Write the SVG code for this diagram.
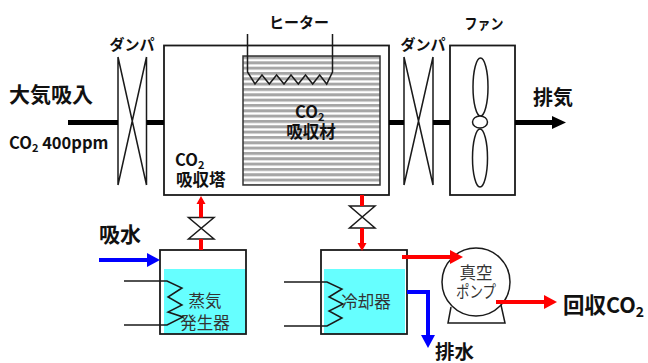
<svg xmlns="http://www.w3.org/2000/svg" width="648" height="363" viewBox="0 0 648 363">
<defs>
<pattern id="stripes" width="4" height="5.33" patternUnits="userSpaceOnUse" y="56"><rect width="4" height="5.33" fill="#fff"/><rect width="4" height="3" fill="#a6a6a6"/></pattern>
<marker id="ar" markerUnits="userSpaceOnUse" markerWidth="14" markerHeight="14" refX="0" refY="7" orient="auto"><path d="M0,0L13,7L0,14Z" fill="#f00"/></marker>
<marker id="ars" markerUnits="userSpaceOnUse" markerWidth="10" markerHeight="10" refX="0" refY="5" orient="auto"><path d="M0,0.500L8,5L0,9.500Z" fill="#f00"/></marker>
<marker id="ab" markerUnits="userSpaceOnUse" markerWidth="14" markerHeight="14" refX="0" refY="7" orient="auto"><path d="M0,0L13,7L0,14Z" fill="#00f"/></marker>
<marker id="ak" markerUnits="userSpaceOnUse" markerWidth="14" markerHeight="14" refX="0" refY="7" orient="auto"><path d="M0,0.500L14,7L0,13.500Z" fill="#000"/></marker>
</defs>
<style>
text{font-family:"Noto Sans CJK JP","Noto Sans",sans-serif;fill:#111}
.b{font-weight:700}
.box{fill:#fff;stroke:#1a1a1a;stroke-width:1.800}
.frame{fill:none;stroke:#1a1a1a;stroke-width:1.800}
.ln{fill:none;stroke:#1a1a1a;stroke-width:1.500}
.water{fill:#66ffff}
.pipeK{fill:none;stroke:#000;stroke-width:5}
.pipeR{fill:none;stroke:#f00;stroke-width:4}
.pipeB{fill:none;stroke:#00f;stroke-width:4}
.sm{font-size:16.500px;fill:#333}
</style>
<g id="inlet-label">
<text class="b" x="9" y="102" font-size="21">大気吸入</text>
<text class="b" x="9" y="149" font-size="16.500">CO<tspan font-size="11" dy="3">2</tspan><tspan dy="-3"> 400ppm</tspan></text>
</g>
<g id="damper-1">
<path class="ln" d="M118,57V185M146.500,57V185M118,57L146.500,185M146.500,57L118,185"/>
<text class="b" x="132" y="50" font-size="15" text-anchor="middle">ダンパ</text>
</g>
<g id="absorption-tower">
<rect class="box" x="164" y="45.500" width="225" height="149.500"/>
<text class="b" x="175" y="166" font-size="16.500">CO<tspan font-size="11" dy="3">2</tspan></text>
<text class="b" x="176" y="186" font-size="16.500">吸収塔</text>
</g>
<g id="absorbent">
<rect x="243" y="56" width="137" height="129" fill="url(#stripes)" stroke="#333" stroke-width="1.500"/>
<text class="b" x="295" y="118" font-size="16.500">CO<tspan font-size="11" dy="3">2</tspan></text>
<text class="b" x="311" y="138" font-size="16.500" text-anchor="middle">吸収材</text>
</g>
<g id="heater">
<path class="ln" d="M247.500,34V72L255,84L262,75L269.300,84L276.600,75L284,84L291,75L298.300,84L305.500,75L312.700,84L319.700,75L326.700,84L332.500,72V34"/>
<text class="b" x="299" y="28" font-size="15" text-anchor="middle">ヒーター</text>
</g>
<g id="damper-2">
<path class="ln" d="M404,57V185M433,57V185M404,57L433,185M433,57L404,185"/>
<text class="b" x="423" y="50" font-size="15" text-anchor="middle">ダンパ</text>
</g>
<g id="fan">
<rect class="box" x="450" y="45.500" width="65" height="149.500"/>
<ellipse class="ln" cx="480.500" cy="87" rx="7.500" ry="29"/>
<ellipse class="ln" cx="480" cy="158" rx="7.500" ry="29"/>
<ellipse cx="480" cy="122" rx="7.500" ry="6" fill="#fff" stroke="#1a1a1a" stroke-width="1.500"/>
<text class="b" x="484" y="29" font-size="15" text-anchor="middle" textLength="39" lengthAdjust="spacingAndGlyphs">ファン</text>
</g>
<g id="exhaust-label"><text class="b" x="533" y="105" font-size="20">排気</text></g>
<g id="valve-1"><path d="M188.500,217.500H214L188.500,239H214Z" fill="#fff" stroke="#1a1a1a" stroke-width="1.500"/></g>
<g id="valve-2"><path d="M349.500,206H375L349.500,228H375Z" fill="#fff" stroke="#1a1a1a" stroke-width="1.500"/></g>
<g id="water-in-label"><text class="b" x="99" y="242" font-size="21">吸水</text></g>
<g id="steam-generator">
<rect class="water" x="164" y="269" width="82" height="65"/>
<rect class="frame" x="160" y="250" width="86" height="84"/>
<text class="sm" x="205" y="307" text-anchor="middle">蒸気</text>
<text class="sm" x="205" y="329" text-anchor="middle">発生器</text>
<path class="ln" d="M124,281H167L182,288L168,297L182,305L168,312L183,317L167,325H124"/>
</g>
<g id="cooler">
<rect class="water" x="324" y="269" width="81" height="65"/>
<rect class="frame" x="321" y="250" width="86" height="84"/>
<text class="sm" x="366" y="308" text-anchor="middle">冷却器</text>
<path class="ln" d="M284,282H327L342,289L329,297L343,304L329,311L342,318L327,326H284"/>
</g>
<g id="vacuum-pump">
<path class="ln" d="M451,307L448,323H505L501,305"/>
<circle cx="476" cy="282" r="34" fill="#fff" stroke="#1a1a1a" stroke-width="1.500"/>
<text class="sm" x="476" y="279" text-anchor="middle">真空</text>
<text class="sm" x="476" y="298" text-anchor="middle" textLength="40" lengthAdjust="spacingAndGlyphs">ポンプ</text>
</g>
<g id="drain-label"><text class="b" x="435" y="358.500" font-size="19.500">排水</text></g>
<g id="recovery-label"><text class="b" x="563" y="313" font-size="21.500">回収CO<tspan font-size="14" dy="4">2</tspan></text></g>
<g id="connectors">
<path class="pipeK" d="M68,122.500H118M146.500,122.500H164M389,122.500H404M433,122.500H450"/>
<path class="pipeK" d="M515,122.500H552" marker-end="url(#ak)"/>
<path class="pipeR" d="M201,250V239"/>
<path class="pipeR" d="M201,217.500V204" marker-end="url(#ars)"/>
<path class="pipeR" d="M362,195V206"/>
<path class="pipeR" d="M362,228V243" marker-end="url(#ars)"/>
<path class="pipeB" d="M99,260H147" marker-end="url(#ab)"/>
<path class="pipeR" d="M402,257H450" marker-end="url(#ar)"/>
<path class="pipeB" d="M407,292H428V335" marker-end="url(#ab)"/>
<path class="pipeR" d="M496,302H544" marker-end="url(#ar)"/>
</g>
</svg>
